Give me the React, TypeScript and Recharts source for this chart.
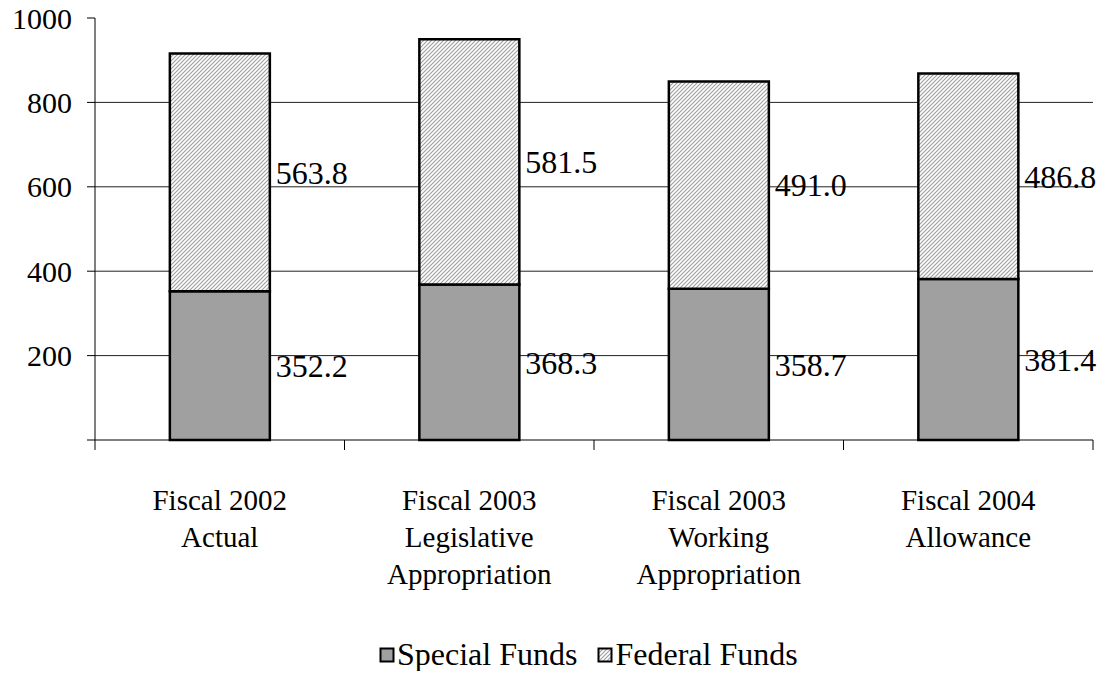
import React from "react";
import {
  Bar,
  BarChart,
  CartesianGrid,
  LabelList,
  XAxis,
  YAxis,
} from "recharts";

const categories = [
  "Fiscal 2002\nActual",
  "Fiscal 2003\nLegislative\nAppropriation",
  "Fiscal 2003\nWorking\nAppropriation",
  "Fiscal 2004\nAllowance",
];
const specialFunds = [352.2, 368.3, 358.7, 381.4];
const federalFunds = [563.8, 581.5, 491.0, 486.8];
const yTicks = [0, 200, 400, 600, 800, 1000];

const data = categories.map((name, i) => ({
  name,
  special: specialFunds[i],
  federal: federalFunds[i],
}));

const FONT = '"Liberation Serif", "Times New Roman", serif';

const CategoryTick = (props: any) => {
  const { x, y, payload, index, visibleTicksCount } = props;
  const half = payload.offset || 0;
  const lines = String(payload.value).split("\n");
  return (
    <g>
      <line x1={x - half} y1={y} x2={x - half} y2={y + 10} stroke="#000" />
      {index === visibleTicksCount - 1 && (
        <line x1={x + half} y1={y} x2={x + half} y2={y + 10} stroke="#000" />
      )}
      <text
        x={x}
        y={y}
        textAnchor="middle"
        fontFamily={FONT}
        fontSize={29}
        fill="#000"
      >
        {lines.map((l, i) => (
          <tspan key={i} x={x} y={y + 70 + i * 37}>
            {l}
          </tspan>
        ))}
      </text>
    </g>
  );
};

const HatchDef: React.FC<{ id: string }> = ({ id }) => (
  <pattern id={id} width={4} height={4} patternUnits="userSpaceOnUse">
    <rect width={4} height={4} fill="#fff" />
    <path
      d="M-1,1 l2,-2 M0,4 l4,-4 M3,5 l2,-2"
      stroke="#a0a0a0"
      strokeWidth={1.2}
    />
  </pattern>
);

const LegendIcon: React.FC<{ hatch?: boolean }> = ({ hatch }) => (
  <svg width={16} height={16} style={{ marginRight: 2 }}>
    <defs>
      <HatchDef id="legendHatch" />
    </defs>
    <rect
      x={1.5}
      y={1.5}
      width={13}
      height={13}
      fill={hatch ? "url(#legendHatch)" : "#a0a0a0"}
      stroke="#000"
      strokeWidth={2}
    />
  </svg>
);

const labelStyle = { fontFamily: FONT, fontSize: 32, fill: "#000" };

const App: React.FC = () => {
  return (
    <div style={{ position: "relative", width: 1112, height: 679, margin: -8 }}>
      <BarChart
        width={1112}
        height={679}
        data={data}
        margin={{ top: 18, right: 19, left: 0, bottom: 0 }}
        barCategoryGap="30%"
      >
        <defs>
          <HatchDef id="fedHatch" />
        </defs>
        <CartesianGrid
          vertical={false}
          horizontalValues={[200, 400, 600, 800]}
          stroke="#222"
        />
        <XAxis
          dataKey="name"
          height={239}
          axisLine={{ stroke: "#000" }}
          tickLine={false}
          tickSize={0}
          tickMargin={0}
          interval={0}
          tick={<CategoryTick />}
        />
        <YAxis
          width={95}
          domain={[0, 1000]}
          ticks={yTicks}
          interval={0}
          axisLine={{ stroke: "#000" }}
          tickLine={{ stroke: "#000" }}
          tickSize={8}
          tickMargin={15}
          tickFormatter={(v: number) => (v === 0 ? "" : String(v))}
          tick={{ fontFamily: FONT, fontSize: 30, fill: "#000" }}
        />
        <Bar
          dataKey="special"
          stackId="a"
          fill="#a0a0a0"
          stroke="#000"
          strokeWidth={2.5}
          isAnimationActive={false}
        >
          <LabelList
            dataKey="special"
            position="right"
            offset={6}
            formatter={(v: any) => Number(v).toFixed(1)}
            style={labelStyle}
          />
        </Bar>
        <Bar
          dataKey="federal"
          stackId="a"
          fill="url(#fedHatch)"
          stroke="#000"
          strokeWidth={2.5}
          isAnimationActive={false}
        >
          <LabelList
            dataKey="federal"
            position="right"
            offset={6}
            formatter={(v: any) => Number(v).toFixed(1)}
            style={labelStyle}
          />
        </Bar>
      </BarChart>
      <div
        style={{
          position: "absolute",
          left: 379,
          top: 636,
          display: "flex",
          alignItems: "center",
          fontFamily: FONT,
          fontSize: 32,
          color: "#000",
          whiteSpace: "nowrap",
        }}
      >
        <LegendIcon />
        <span style={{ marginRight: 20 }}>Special Funds</span>
        <LegendIcon hatch />
        <span>Federal Funds</span>
      </div>
    </div>
  );
};

export default App;
